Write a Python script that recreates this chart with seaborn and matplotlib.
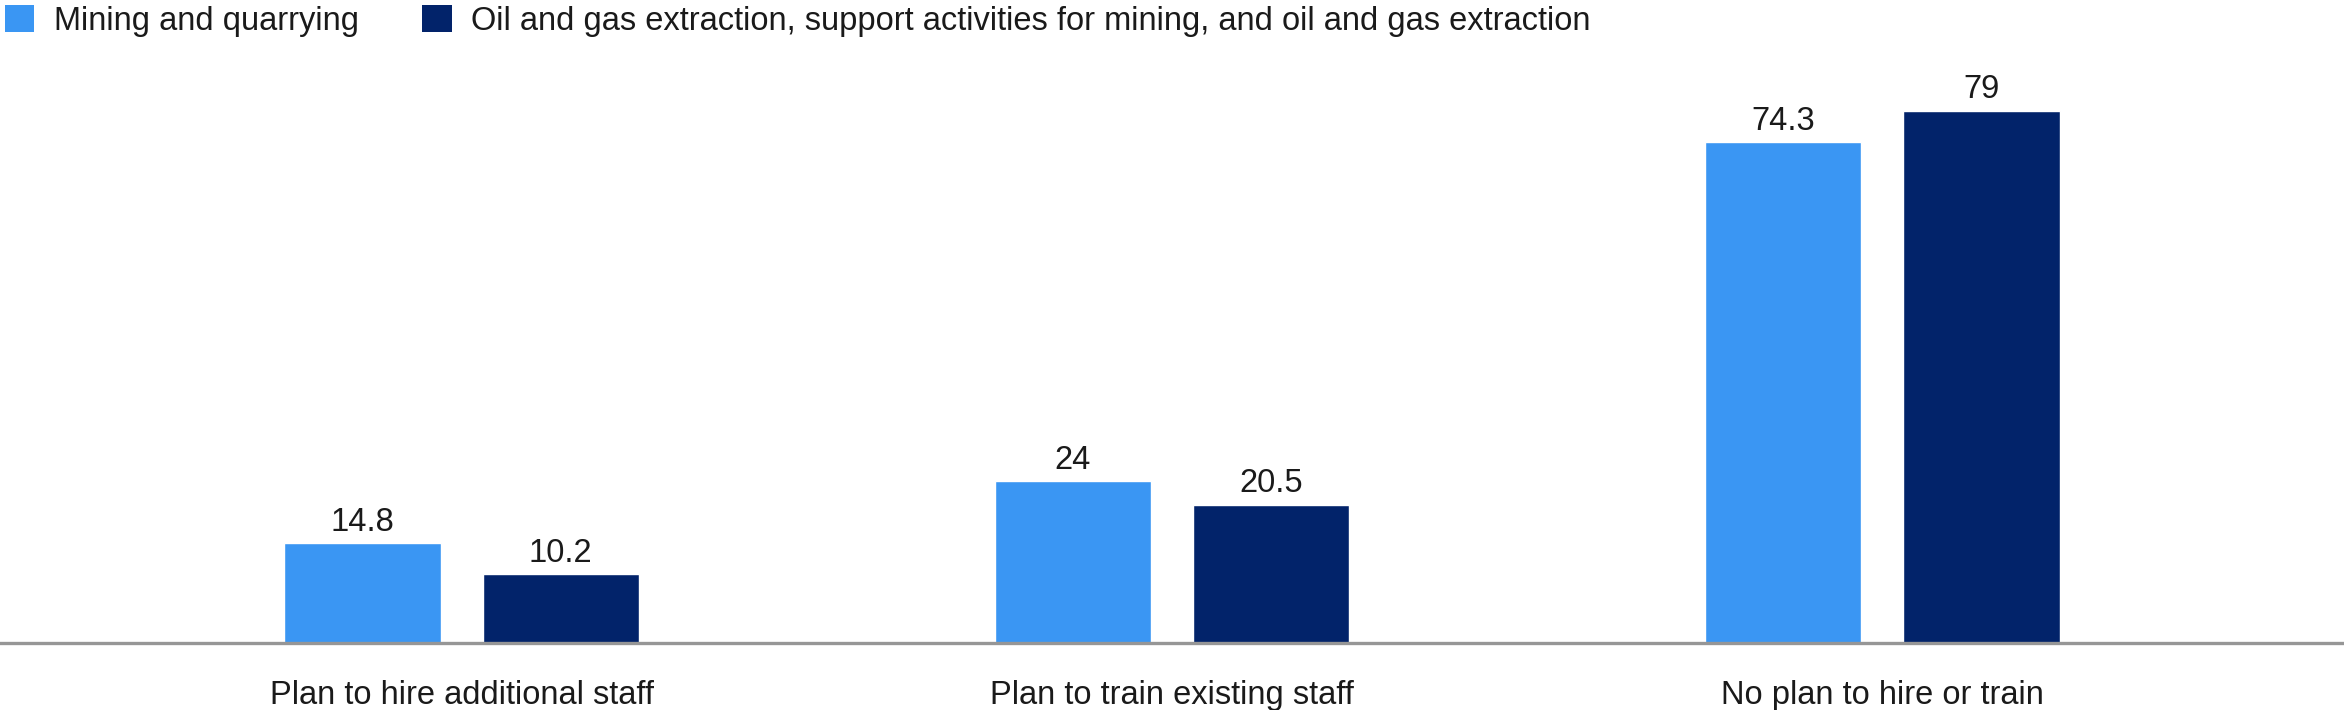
import matplotlib
matplotlib.use('Agg')
import matplotlib.pyplot as plt
from matplotlib.patches import Patch
import pandas as pd
import seaborn as sns

categories = ['Plan to hire additional staff', 'Plan to train existing staff', 'No plan to hire or train']
series_names = ['Mining and quarrying',
                'Oil and gas extraction, support activities for mining, and oil and gas extraction']
mining = [14.8, 24, 74.3]
oil_gas = [10.2, 20.5, 79]
value_labels = [['14.8', '24', '74.3'], ['10.2', '20.5', '79']]
colors = ['#3A96F3', '#02236A']


def main():
    df = pd.DataFrame({
        'category': categories * 2,
        'series': [series_names[0]] * 3 + [series_names[1]] * 3,
        'value': mining + oil_gas,
    })

    sns.set_style('white')
    plt.rcParams['font.family'] = ['Liberation Sans', 'DejaVu Sans']
    text_color = '#1a1a1a'
    fs = 23.5

    fig = plt.figure(figsize=(23.44, 7.10), dpi=100)
    ax = fig.add_axes([0.0, 0.0944, 1.0, 0.8211])

    sns.barplot(data=df, x='category', y='value', hue='series', order=categories,
                hue_order=series_names, palette=colors, width=0.558, gap=0.21,
                saturation=1, ax=ax, legend=False)

    for cont, labels in zip(ax.containers, value_labels):
        ax.bar_label(cont, labels=labels, padding=4, fontsize=fs, color=text_color)

    ax.set_xlim(-0.65, 2.65)
    ax.set_ylim(0, 86.5)
    ax.set_xlabel('')
    ax.set_ylabel('')
    ax.set_yticks([])
    ax.tick_params(axis='x', length=0, pad=27, labelsize=fs, labelcolor=text_color)
    for side in ['top', 'left', 'right']:
        ax.spines[side].set_visible(False)
    ax.spines['bottom'].set_color('#969696')
    ax.spines['bottom'].set_linewidth(2.4)

    handles = [Patch(facecolor=c, edgecolor='none') for c in colors]
    fig.legend(handles, series_names, loc='upper left', bbox_to_anchor=(0, 1),
               ncol=2, frameon=False, fontsize=fs, borderpad=0, borderaxespad=0.15,
               handlelength=0.9, handleheight=0.9, handletextpad=0.6,
               columnspacing=1.95, labelcolor=text_color)

    fig.savefig('out.png', dpi=100)


main()
